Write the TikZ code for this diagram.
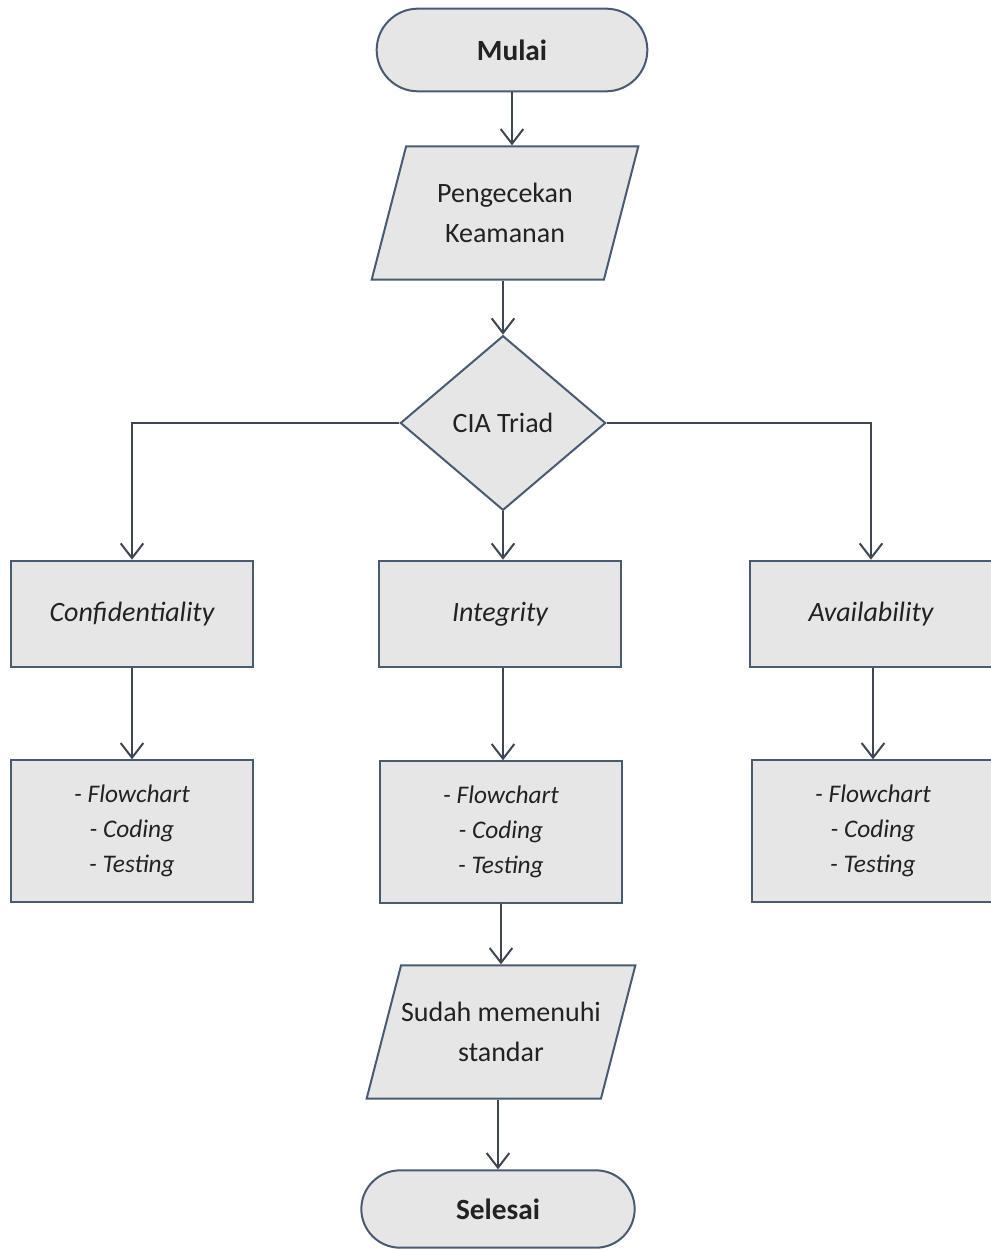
\documentclass[tikz,border=0pt]{standalone}
\usepackage{fontspec}
\setmainfont{Carlito}
\usepackage{tikz}
\usetikzlibrary{arrows.meta,positioning,shapes.geometric,shapes.misc}
\definecolor{garis}{HTML}{4A5A70}
\definecolor{panah}{HTML}{3E4650}
\definecolor{isian}{HTML}{E6E6E6}
\definecolor{tulisan}{HTML}{222222}

\begin{document}
\begin{tikzpicture}[x=0.75pt,y=-0.75pt,
  font=\fontsize{21}{30}\selectfont,text=tulisan,
  terminal/.style={rounded rectangle,draw=garis,fill=isian,line width=1.5pt,minimum width=203pt,minimum height=62pt,inner sep=0pt,font=\fontsize{22}{30}\selectfont\bfseries},
  masukan/.style={trapezium,trapezium left angle=60,trapezium right angle=120,trapezium stretches body,draw=garis,fill=isian,line width=1.5pt,minimum width=200pt,minimum height=100pt,inner sep=0pt,align=center},
  keputusan/.style={diamond,draw=garis,fill=isian,line width=1.5pt,minimum width=154pt,minimum height=131pt,inner sep=0pt},
  kotak/.style={rectangle,draw=garis,fill=isian,line width=1.5pt,minimum width=181pt,minimum height=80pt,inner sep=0pt,font=\fontsize{21}{30}\selectfont\itshape},
  daftar/.style={kotak,minimum height=106pt,align=center,font=\fontsize{19}{26}\selectfont\itshape},
  panahku/.style={draw=panah,line width=1.5pt,-{Straight Barb[length=11pt,width=17pt,line width=1.5pt]}}]
\useasboundingbox (0,0) rectangle (990,1250);
% alur utama
\node[terminal] (mulai) at (512,50) {Mulai};
\node[masukan] (cek) at (505,213) {Pengecekan\\Keamanan};
\node[keputusan] (cia) at (503,423) {CIA Triad};
% tiga aspek
\node[kotak] (conf) at (132,614) {Confidentiality};
\node[kotak] (integ) at (500,614) {Integrity};
\node[kotak] (avail) at (871,614) {Availability};
\node[daftar] (lconf) at (132,831) {- Flowchart\\- Coding\\- Testing};
\node[daftar] (linteg) at (501,832) {- Flowchart\\- Coding\\- Testing};
\node[daftar] (lavail) at (873,831) {- Flowchart\\- Coding\\- Testing};
% akhir
\node[masukan] (sudah) at (501,1032) {Sudah memenuhi\\standar};
\node[terminal,minimum height=58pt,minimum width=205pt] (selesai) at (498,1209) {Selesai};

\draw[panahku] (mulai.south) -- (mulai.south |- cek.north);
\draw[panahku] (cia.north |- cek.south) -- (cia.north);
\draw[panahku] (cia.west) -| (conf.north);
\draw[panahku] (cia.east) -| (avail.north);
\draw[panahku] (cia.south) -- (cia.south |- integ.north);
\draw[panahku] (conf) -- (lconf);
\draw[panahku] (cia.south |- integ.south) -- (cia.south |- linteg.north);
\draw[panahku] (avail.south -| lavail.north) -- (lavail.north);
\draw[panahku] (linteg) -- (sudah);
\draw[panahku] (sudah.south -| selesai.north) -- (selesai.north);
\end{tikzpicture}
\end{document}
